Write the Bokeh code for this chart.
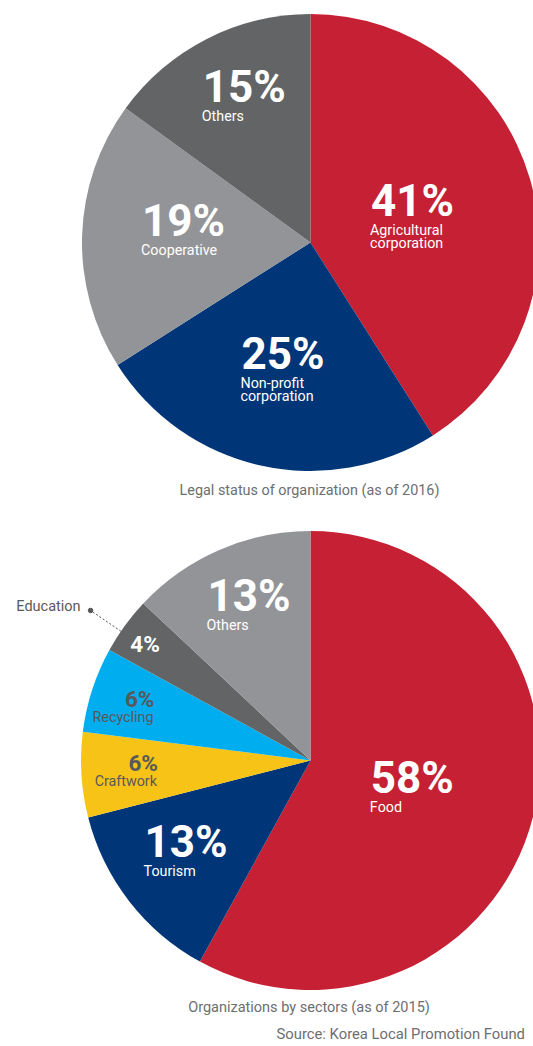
import math
from bokeh.plotting import figure
from bokeh.models import Range1d, ColumnDataSource
from bokeh.core.properties import value
from bokeh.embed import file_html
from bokeh.resources import INLINE

# ---------------- data ----------------
legal_labels = ["Agricultural\ncorporation", "Non-profit\ncorporation", "Cooperative", "Others"]
legal_values = [41, 25, 19, 15]
legal_colors = ["#C52033", "#003578", "#939498", "#636466"]

sector_labels = ["Food", "Tourism", "Craftwork", "Recycling", "Education", "Others"]
sector_values = [58, 13, 6, 6, 4, 13]
sector_colors = ["#C52033", "#003578", "#F7C316", "#00AEEF", "#636466", "#939498"]

legal_title = "Legal status of organization (as of 2016)"
sector_title = "Organizations by sectors (as of 2015)"
source_text = "Source: Korea Local Promotion Found"

# ---------------- layout / style ----------------
FONT = value("Roboto")
W, H = 533, 1046
BL = 0.36  # baseline correction (fraction of font size)

p = figure(width=W, height=H, x_range=Range1d(0, W), y_range=Range1d(-H, 0),
           output_backend="svg", toolbar_location=None, min_border=0,
           x_axis_location=None, y_axis_location=None, outline_line_color=None,
           background_fill_color="white", border_fill_color="white")
p.grid.visible = False


def put_text(x, baseline, txt, size, color, align="left", bold=False):
    p.text(x=[x], y=[-(baseline - BL * size)], text=[txt], text_align=align,
           text_baseline="alphabetic", text_font=FONT,
           text_font_style="bold" if bold else "normal",
           text_font_size="%.1fpx" % size, text_color=color)


def draw_pie(values, labels, colors, cx, cy, r, lab_r, lab_da, sizes, tcolors, aligns, outside):
    total = float(sum(values))
    starts, ends, mids = [], [], []
    acc = 0.0
    for v in values:
        starts.append(math.pi / 2 - 2 * math.pi * acc / total)
        mids.append(360.0 * (acc + v / 2.0) / total)
        acc += v
        ends.append(math.pi / 2 - 2 * math.pi * acc / total)
    n = len(values)
    src = ColumnDataSource(dict(x=[cx] * n, y=[-cy] * n, s=starts, e=ends, c=colors))
    p.wedge(x="x", y="y", radius=r, start_angle="s", end_angle="e", direction="clock",
            fill_color="c", line_color=None, source=src)

    for i, (v, lab) in enumerate(zip(values, labels)):
        th = math.radians(mids[i] + lab_da[i])
        d = lab_r[i] * r
        ax = cx + d * math.sin(th)
        ay = cy - d * math.cos(th)
        big = sizes[i] == "big"
        fs = 44 if big else 22.5
        hw = 41.5 if big else 16.5
        tx = ax - hw if aligns[i] == "left" else ax + hw
        put_text(tx, ay, "%d%%" % v, fs, tcolors[i], aligns[i], bold=True)
        if outside[i]:
            lth = math.radians(mids[i] - 1.7)
            x1 = cx + r * 1.0 * math.sin(lth)
            y1 = cy - r * 1.0 * math.cos(lth)
            x2 = cx + r * 1.16 * math.sin(lth)
            y2 = cy - r * 1.16 * math.cos(lth)
            p.line(x=[x1, x2], y=[-y1, -y2], line_color="#555555", line_width=1, line_dash="2 2")
            p.scatter(x=[x2], y=[-y2], size=4.5, color="#555555")
            put_text(x2 - 10, y2 + 1, lab, 14.5, "#58595B", "right")
        else:
            first = 18 if big else 15
            for j, line in enumerate(lab.split("\n")):
                put_text(tx - 1, ay + first + 13.5 * j, line, 14.3, tcolors[i], aligns[i])


# top pie
draw_pie(legal_values, legal_labels, legal_colors, 310, 242, 228.5,
         lab_r=[0.46, 0.571, 0.556, 0.676], lab_da=[2.2, -0.4, 0.6, 1.6],
         sizes=["big"] * 4, tcolors=["white"] * 4, aligns=["left"] * 4, outside=[False] * 4)

# bottom pie
draw_pie(sector_values, sector_labels, sector_colors, 310, 760, 229.5,
         lab_r=[0.467, 0.688, 0.738, 0.787, 0.856, 0.70], lab_da=[3.7, -0.2, 0.0, -0.8, -2.4, 0.9],
         sizes=["big", "big", "small", "small", "small", "big"],
         tcolors=["white", "white", "#58595B", "#58595B", "white", "white"],
         aligns=["left", "left", "right", "right", "left", "left"],
         outside=[False, False, False, False, True, False])

# captions
put_text(309, 495, legal_title, 14.4, "#6D6E71", "center")
put_text(308.5, 1012.5, sector_title, 14.5, "#6D6E71", "center")
put_text(276, 1039, source_text, 14.8, "#6D6E71", "left")

open("out.html", "w").write(file_html(p, INLINE))
